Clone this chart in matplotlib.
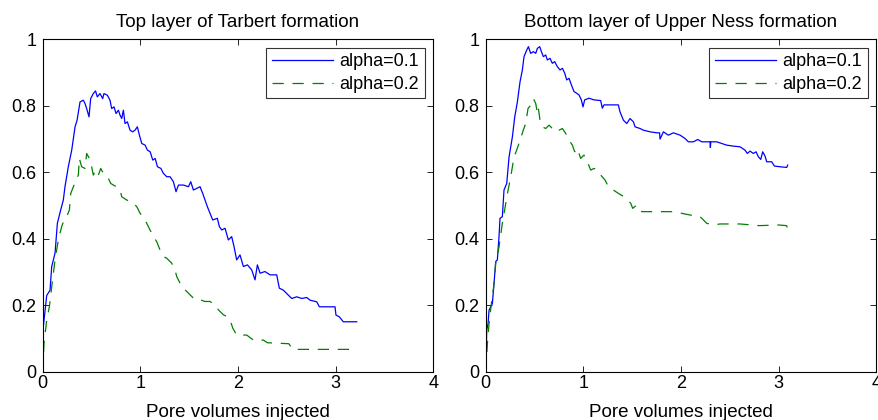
import matplotlib
matplotlib.use("Agg")
import matplotlib.pyplot as plt

plt.rcParams['font.family'] = ['Liberation Sans', 'DejaVu Sans']

titles = ["Top layer of Tarbert formation", "Bottom layer of Upper Ness formation"]
legend_labels = ["alpha=0.1", "alpha=0.2"]
xlabel = "Pore volumes injected"
xticks = [0, 1, 2, 3, 4]
yticks = [0, 0.2, 0.4, 0.6, 0.8, 1]
ytick_labels = ["0", "0.2", "0.4", "0.6", "0.8", "1"]

# Left panel (Tarbert), alpha=0.1
tar_a1_x = [0.000, 0.006, 0.041, 0.075, 0.092, 0.126, 0.150, 0.184, 0.211, 0.228, 0.262, 0.297,
            0.331, 0.352, 0.382, 0.416, 0.433, 0.450, 0.474, 0.491, 0.518, 0.541, 0.559, 0.586,
            0.614, 0.627, 0.662, 0.689, 0.706, 0.730, 0.751, 0.775, 0.792, 0.809, 0.826, 0.843,
            0.867, 0.894, 0.921, 0.945, 0.969, 0.990, 1.014, 1.048, 1.072, 1.100, 1.127, 1.151,
            1.175, 1.210, 1.236, 1.270, 1.304, 1.338, 1.365, 1.390, 1.441, 1.492, 1.516, 1.543,
            1.577, 1.611, 1.638, 1.662, 1.686, 1.713, 1.741, 1.788, 1.809, 1.833, 1.867, 1.901,
            1.935, 1.959, 1.986, 2.020, 2.055, 2.096, 2.140, 2.174, 2.198, 2.226, 2.276, 2.328,
            2.396, 2.423, 2.464, 2.515, 2.550, 2.601, 2.652, 2.703, 2.737, 2.806, 2.833, 2.942,
            2.993, 3.003, 3.037, 3.078, 3.215]
tar_a1_y = [0.000, 0.136, 0.230, 0.246, 0.317, 0.357, 0.447, 0.487, 0.517, 0.557, 0.617, 0.667,
            0.737, 0.757, 0.812, 0.817, 0.807, 0.792, 0.767, 0.822, 0.837, 0.845, 0.827, 0.837,
            0.822, 0.837, 0.832, 0.817, 0.792, 0.797, 0.777, 0.787, 0.772, 0.762, 0.787, 0.747,
            0.752, 0.727, 0.722, 0.727, 0.737, 0.712, 0.687, 0.682, 0.667, 0.662, 0.637, 0.642,
            0.617, 0.612, 0.597, 0.587, 0.587, 0.572, 0.542, 0.562, 0.562, 0.557, 0.572, 0.547,
            0.552, 0.557, 0.537, 0.517, 0.497, 0.477, 0.457, 0.462, 0.437, 0.427, 0.432, 0.397,
            0.407, 0.377, 0.337, 0.352, 0.317, 0.322, 0.307, 0.277, 0.322, 0.297, 0.302, 0.292,
            0.292, 0.252, 0.246, 0.231, 0.221, 0.226, 0.221, 0.224, 0.216, 0.211, 0.196, 0.196,
            0.196, 0.171, 0.166, 0.151, 0.151]

# Left panel (Tarbert), alpha=0.2
tar_a2_x = [0.000, 0.013, 0.041, 0.068, 0.092, 0.126, 0.160, 0.194, 0.218, 0.246, 0.273, 0.287,
            0.314, 0.341, 0.365, 0.375, 0.399, 0.433, 0.450, 0.478, 0.501, 0.518, 0.546, 0.570,
            0.594, 0.621, 0.648, 0.672, 0.696, 0.723, 0.757, 0.792, 0.809, 0.860, 0.911, 0.963,
            0.997, 1.048, 1.082, 1.133, 1.167, 1.201, 1.236, 1.270, 1.321, 1.355, 1.372, 1.423,
            1.475, 1.526, 1.560, 1.611, 1.662, 1.713, 1.764, 1.799, 1.850, 1.884, 1.918, 1.946,
            1.986, 2.089, 2.157, 2.259, 2.300, 2.520, 2.560, 3.215]
tar_a2_y = [0.000, 0.086, 0.156, 0.196, 0.256, 0.337, 0.397, 0.437, 0.457, 0.467, 0.487, 0.537,
            0.557, 0.577, 0.592, 0.642, 0.617, 0.612, 0.657, 0.642, 0.617, 0.592, 0.607, 0.592,
            0.612, 0.597, 0.592, 0.582, 0.567, 0.562, 0.557, 0.547, 0.527, 0.517, 0.512, 0.497,
            0.477, 0.457, 0.437, 0.407, 0.392, 0.367, 0.347, 0.342, 0.327, 0.307, 0.287, 0.257,
            0.242, 0.227, 0.217, 0.217, 0.212, 0.212, 0.202, 0.187, 0.172, 0.167, 0.157, 0.132,
            0.111, 0.111, 0.096, 0.096, 0.088, 0.085, 0.068, 0.068]

# Right panel (Upper Ness), alpha=0.1
ness_a1_x = [0.000, 0.010, 0.024, 0.034, 0.068, 0.085, 0.102, 0.119, 0.136, 0.146, 0.170, 0.187,
             0.215, 0.239, 0.273, 0.297, 0.324, 0.351, 0.375, 0.392, 0.420, 0.437, 0.460, 0.488,
             0.512, 0.529, 0.553, 0.570, 0.590, 0.614, 0.631, 0.658, 0.682, 0.706, 0.733, 0.761,
             0.785, 0.809, 0.829, 0.853, 0.877, 0.904, 0.931, 0.955, 0.979, 0.996, 1.013, 1.058,
             1.109, 1.177, 1.194, 1.211, 1.358, 1.375, 1.410, 1.444, 1.478, 1.512, 1.529, 1.580,
             1.614, 1.683, 1.751, 1.780, 1.785, 1.819, 1.870, 1.922, 1.990, 2.041, 2.075, 2.126,
             2.171, 2.212, 2.297, 2.300, 2.305, 2.365, 2.416, 2.467, 2.536, 2.604, 2.655, 2.679,
             2.706, 2.740, 2.768, 2.792, 2.816, 2.836, 2.860, 2.877, 2.928, 2.956, 3.013, 3.082,
             3.092]
ness_a1_y = [0.000, 0.126, 0.146, 0.186, 0.206, 0.266, 0.332, 0.337, 0.407, 0.462, 0.467, 0.547,
             0.567, 0.647, 0.707, 0.767, 0.812, 0.872, 0.908, 0.948, 0.968, 0.978, 0.958, 0.963,
             0.958, 0.973, 0.978, 0.963, 0.948, 0.953, 0.938, 0.943, 0.928, 0.933, 0.918, 0.908,
             0.913, 0.898, 0.878, 0.883, 0.863, 0.843, 0.838, 0.833, 0.818, 0.797, 0.818, 0.823,
             0.818, 0.816, 0.793, 0.803, 0.803, 0.782, 0.757, 0.747, 0.762, 0.752, 0.737, 0.732,
             0.727, 0.722, 0.719, 0.719, 0.700, 0.722, 0.712, 0.719, 0.712, 0.702, 0.692, 0.692,
             0.699, 0.692, 0.692, 0.675, 0.692, 0.692, 0.687, 0.682, 0.679, 0.677, 0.667, 0.657,
             0.664, 0.657, 0.662, 0.647, 0.639, 0.662, 0.649, 0.632, 0.632, 0.619, 0.617, 0.615,
             0.622]

# Right panel (Upper Ness), alpha=0.2
ness_a2_x = [0.000, 0.017, 0.034, 0.058, 0.085, 0.102, 0.136, 0.170, 0.205, 0.229, 0.256, 0.290,
             0.317, 0.351, 0.385, 0.409, 0.433, 0.460, 0.488, 0.512, 0.529, 0.539, 0.556, 0.580,
             0.614, 0.648, 0.682, 0.716, 0.750, 0.785, 0.819, 0.853, 0.887, 0.911, 0.938, 0.972,
             1.006, 1.040, 1.075, 1.109, 1.143, 1.177, 1.222, 1.256, 1.307, 1.358, 1.427, 1.485,
             1.505, 1.546, 1.597, 1.683, 1.819, 1.922, 2.007, 2.092, 2.195, 2.263, 2.331, 2.399,
             2.604, 2.800, 3.000, 3.080, 3.100]
ness_a2_y = [0.000, 0.086, 0.146, 0.206, 0.266, 0.326, 0.376, 0.447, 0.507, 0.547, 0.587, 0.647,
             0.667, 0.697, 0.727, 0.747, 0.792, 0.802, 0.822, 0.807, 0.777, 0.792, 0.757, 0.737,
             0.732, 0.742, 0.732, 0.737, 0.727, 0.732, 0.717, 0.697, 0.682, 0.662, 0.672, 0.642,
             0.652, 0.632, 0.607, 0.612, 0.607, 0.592, 0.577, 0.557, 0.547, 0.537, 0.525, 0.507,
             0.492, 0.502, 0.482, 0.482, 0.482, 0.482, 0.477, 0.472, 0.467, 0.447, 0.442, 0.445,
             0.445, 0.440, 0.442, 0.440, 0.427]

panels = [(tar_a1_x, tar_a1_y, tar_a2_x, tar_a2_y),
          (ness_a1_x, ness_a1_y, ness_a2_x, ness_a2_y)]

fig = plt.figure(figsize=(8.79, 4.2), dpi=100)
positions = [[0.0486, 0.1143, 0.4444, 0.792], [0.5526, 0.1143, 0.4444, 0.792]]

for pos, title, (x1, y1, x2, y2) in zip(positions, titles, panels):
    ax = fig.add_axes(pos)
    ax.plot(x1, y1, color='#0000ff', lw=0.9, label=legend_labels[0])
    ax.plot(x2, y2, color='#008000', lw=0.9, ls=(0, (9, 7)), label=legend_labels[1])
    ax.set_xlim(0, 4)
    ax.set_ylim(0, 1)
    ax.set_xticks(xticks)
    ax.set_yticks(yticks)
    ax.set_yticklabels(ytick_labels)
    ax.tick_params(axis='y', direction='in', right=True, length=4, width=0.6,
                   labelsize=13, pad=4.5)
    ax.tick_params(axis='x', direction='in', top=True, length=4, width=0.6,
                   labelsize=13, pad=2)
    for sp in ax.spines.values():
        sp.set_linewidth(0.8)
    ax.set_title(title, fontsize=13.5, pad=9)
    ax.set_xlabel(xlabel, fontsize=13.5, labelpad=9)
    leg = ax.legend(loc='upper right', fontsize=13, frameon=True, fancybox=False,
                    borderaxespad=0.48, handlelength=3.4, handletextpad=0.37,
                    borderpad=0.3, labelspacing=0.3)
    leg.get_frame().set_edgecolor('black')
    leg.get_frame().set_linewidth(0.8)

fig.savefig("out.png", dpi=100)
